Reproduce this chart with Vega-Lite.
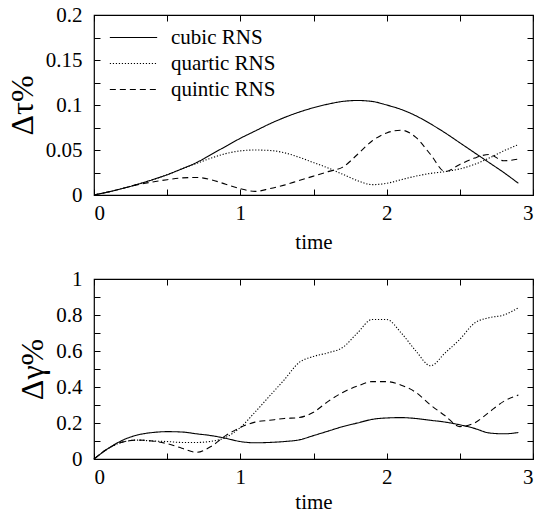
{
  "$schema": "https://vega.github.io/schema/vega-lite/v6.json",
  "padding": {"left": 5, "top": 3, "right": 0, "bottom": 0},
  "spacing": 14,
  "config": {
    "font": "Liberation Serif",
    "view": {"stroke": "black", "strokeWidth": 1.2},
    "axis": {
      "labelFont": "'Liberation Serif', serif",
      "labelFontSize": 21,
      "labelColor": "black",
      "titleFont": "'Liberation Serif', serif",
      "titleColor": "black",
      "titleFontWeight": "normal",
      "tickColor": "black",
      "tickSize": -6,
      "domain": false,
      "grid": false
    },
    "legend": {
      "labelFont": "Liberation Serif",
      "labelFontSize": 21,
      "labelColor": "black"
    }
  },
  "datasets": {
    "tau": [
      {"t":0,"v":0,"s":"cubic RNS"},{"t":0.1,"v":0.0035,"s":"cubic RNS"},{"t":0.2,"v":0.0075,"s":"cubic RNS"},{"t":0.3,"v":0.012,"s":"cubic RNS"},{"t":0.4,"v":0.017,"s":"cubic RNS"},{"t":0.5,"v":0.0225,"s":"cubic RNS"},{"t":0.6,"v":0.029,"s":"cubic RNS"},{"t":0.7,"v":0.036,"s":"cubic RNS"},{"t":0.8,"v":0.045,"s":"cubic RNS"},{"t":0.9,"v":0.054,"s":"cubic RNS"},{"t":1.0,"v":0.063,"s":"cubic RNS"},{"t":1.1,"v":0.071,"s":"cubic RNS"},{"t":1.2,"v":0.079,"s":"cubic RNS"},{"t":1.3,"v":0.086,"s":"cubic RNS"},{"t":1.4,"v":0.092,"s":"cubic RNS"},{"t":1.5,"v":0.097,"s":"cubic RNS"},{"t":1.6,"v":0.101,"s":"cubic RNS"},{"t":1.7,"v":0.104,"s":"cubic RNS"},{"t":1.8,"v":0.105,"s":"cubic RNS"},{"t":1.9,"v":0.104,"s":"cubic RNS"},{"t":2.0,"v":0.1,"s":"cubic RNS"},{"t":2.1,"v":0.095,"s":"cubic RNS"},{"t":2.2,"v":0.088,"s":"cubic RNS"},{"t":2.3,"v":0.079,"s":"cubic RNS"},{"t":2.4,"v":0.069,"s":"cubic RNS"},{"t":2.5,"v":0.058,"s":"cubic RNS"},{"t":2.6,"v":0.047,"s":"cubic RNS"},{"t":2.7,"v":0.036,"s":"cubic RNS"},{"t":2.8,"v":0.025,"s":"cubic RNS"},{"t":2.9,"v":0.013,"s":"cubic RNS"},
      {"t":0,"v":0,"s":"quartic RNS"},{"t":0.1,"v":0.0035,"s":"quartic RNS"},{"t":0.2,"v":0.0075,"s":"quartic RNS"},{"t":0.3,"v":0.012,"s":"quartic RNS"},{"t":0.4,"v":0.017,"s":"quartic RNS"},{"t":0.5,"v":0.0225,"s":"quartic RNS"},{"t":0.6,"v":0.029,"s":"quartic RNS"},{"t":0.7,"v":0.035,"s":"quartic RNS"},{"t":0.8,"v":0.041,"s":"quartic RNS"},{"t":0.9,"v":0.046,"s":"quartic RNS"},{"t":1.0,"v":0.049,"s":"quartic RNS"},{"t":1.1,"v":0.05,"s":"quartic RNS"},{"t":1.2,"v":0.0495,"s":"quartic RNS"},{"t":1.3,"v":0.047,"s":"quartic RNS"},{"t":1.4,"v":0.042,"s":"quartic RNS"},{"t":1.5,"v":0.036,"s":"quartic RNS"},{"t":1.6,"v":0.03,"s":"quartic RNS"},{"t":1.7,"v":0.023,"s":"quartic RNS"},{"t":1.8,"v":0.016,"s":"quartic RNS"},{"t":1.9,"v":0.0115,"s":"quartic RNS"},{"t":2.0,"v":0.013,"s":"quartic RNS"},{"t":2.1,"v":0.017,"s":"quartic RNS"},{"t":2.2,"v":0.021,"s":"quartic RNS"},{"t":2.3,"v":0.024,"s":"quartic RNS"},{"t":2.4,"v":0.026,"s":"quartic RNS"},{"t":2.5,"v":0.029,"s":"quartic RNS"},{"t":2.6,"v":0.034,"s":"quartic RNS"},{"t":2.7,"v":0.041,"s":"quartic RNS"},{"t":2.8,"v":0.049,"s":"quartic RNS"},{"t":2.9,"v":0.056,"s":"quartic RNS"},
      {"t":0,"v":0,"s":"quintic RNS"},{"t":0.1,"v":0.0035,"s":"quintic RNS"},{"t":0.2,"v":0.0075,"s":"quintic RNS"},{"t":0.3,"v":0.0115,"s":"quintic RNS"},{"t":0.4,"v":0.0145,"s":"quintic RNS"},{"t":0.5,"v":0.017,"s":"quintic RNS"},{"t":0.6,"v":0.019,"s":"quintic RNS"},{"t":0.7,"v":0.0195,"s":"quintic RNS"},{"t":0.8,"v":0.017,"s":"quintic RNS"},{"t":0.9,"v":0.012,"s":"quintic RNS"},{"t":1.0,"v":0.007,"s":"quintic RNS"},{"t":1.1,"v":0.004,"s":"quintic RNS"},{"t":1.2,"v":0.007,"s":"quintic RNS"},{"t":1.3,"v":0.011,"s":"quintic RNS"},{"t":1.4,"v":0.016,"s":"quintic RNS"},{"t":1.5,"v":0.021,"s":"quintic RNS"},{"t":1.6,"v":0.026,"s":"quintic RNS"},{"t":1.7,"v":0.031,"s":"quintic RNS"},{"t":1.8,"v":0.045,"s":"quintic RNS"},{"t":1.9,"v":0.06,"s":"quintic RNS"},{"t":2.0,"v":0.069,"s":"quintic RNS"},{"t":2.1,"v":0.072,"s":"quintic RNS"},{"t":2.2,"v":0.064,"s":"quintic RNS"},{"t":2.3,"v":0.045,"s":"quintic RNS"},{"t":2.4,"v":0.026,"s":"quintic RNS"},{"t":2.5,"v":0.034,"s":"quintic RNS"},{"t":2.6,"v":0.041,"s":"quintic RNS"},{"t":2.7,"v":0.045,"s":"quintic RNS"},{"t":2.8,"v":0.038,"s":"quintic RNS"},{"t":2.9,"v":0.04,"s":"quintic RNS"}
    ],
    "gamma": [
      {"t":0,"v":0,"s":"cubic RNS"},{"t":0.1,"v":0.06,"s":"cubic RNS"},{"t":0.2,"v":0.106,"s":"cubic RNS"},{"t":0.3,"v":0.134,"s":"cubic RNS"},{"t":0.4,"v":0.147,"s":"cubic RNS"},{"t":0.5,"v":0.152,"s":"cubic RNS"},{"t":0.6,"v":0.15,"s":"cubic RNS"},{"t":0.7,"v":0.14,"s":"cubic RNS"},{"t":0.8,"v":0.13,"s":"cubic RNS"},{"t":0.9,"v":0.115,"s":"cubic RNS"},{"t":1.0,"v":0.097,"s":"cubic RNS"},{"t":1.1,"v":0.09,"s":"cubic RNS"},{"t":1.2,"v":0.092,"s":"cubic RNS"},{"t":1.3,"v":0.097,"s":"cubic RNS"},{"t":1.4,"v":0.106,"s":"cubic RNS"},{"t":1.5,"v":0.13,"s":"cubic RNS"},{"t":1.6,"v":0.155,"s":"cubic RNS"},{"t":1.7,"v":0.18,"s":"cubic RNS"},{"t":1.8,"v":0.2,"s":"cubic RNS"},{"t":1.9,"v":0.22,"s":"cubic RNS"},{"t":2.0,"v":0.228,"s":"cubic RNS"},{"t":2.1,"v":0.23,"s":"cubic RNS"},{"t":2.2,"v":0.225,"s":"cubic RNS"},{"t":2.3,"v":0.215,"s":"cubic RNS"},{"t":2.4,"v":0.205,"s":"cubic RNS"},{"t":2.5,"v":0.19,"s":"cubic RNS"},{"t":2.6,"v":0.17,"s":"cubic RNS"},{"t":2.7,"v":0.145,"s":"cubic RNS"},{"t":2.8,"v":0.14,"s":"cubic RNS"},{"t":2.9,"v":0.147,"s":"cubic RNS"},
      {"t":0,"v":0,"s":"quartic RNS"},{"t":0.1,"v":0.06,"s":"quartic RNS"},{"t":0.2,"v":0.095,"s":"quartic RNS"},{"t":0.3,"v":0.105,"s":"quartic RNS"},{"t":0.4,"v":0.1,"s":"quartic RNS"},{"t":0.5,"v":0.097,"s":"quartic RNS"},{"t":0.6,"v":0.092,"s":"quartic RNS"},{"t":0.7,"v":0.092,"s":"quartic RNS"},{"t":0.8,"v":0.098,"s":"quartic RNS"},{"t":0.9,"v":0.12,"s":"quartic RNS"},{"t":1.0,"v":0.175,"s":"quartic RNS"},{"t":1.1,"v":0.26,"s":"quartic RNS"},{"t":1.2,"v":0.35,"s":"quartic RNS"},{"t":1.3,"v":0.44,"s":"quartic RNS"},{"t":1.4,"v":0.535,"s":"quartic RNS"},{"t":1.5,"v":0.57,"s":"quartic RNS"},{"t":1.6,"v":0.59,"s":"quartic RNS"},{"t":1.7,"v":0.62,"s":"quartic RNS"},{"t":1.8,"v":0.7,"s":"quartic RNS"},{"t":1.9,"v":0.775,"s":"quartic RNS"},{"t":2.0,"v":0.775,"s":"quartic RNS"},{"t":2.1,"v":0.7,"s":"quartic RNS"},{"t":2.2,"v":0.6,"s":"quartic RNS"},{"t":2.3,"v":0.518,"s":"quartic RNS"},{"t":2.4,"v":0.59,"s":"quartic RNS"},{"t":2.5,"v":0.665,"s":"quartic RNS"},{"t":2.6,"v":0.755,"s":"quartic RNS"},{"t":2.7,"v":0.785,"s":"quartic RNS"},{"t":2.8,"v":0.8,"s":"quartic RNS"},{"t":2.9,"v":0.84,"s":"quartic RNS"},
      {"t":0,"v":0,"s":"quintic RNS"},{"t":0.1,"v":0.06,"s":"quintic RNS"},{"t":0.2,"v":0.095,"s":"quintic RNS"},{"t":0.3,"v":0.105,"s":"quintic RNS"},{"t":0.4,"v":0.1,"s":"quintic RNS"},{"t":0.5,"v":0.085,"s":"quintic RNS"},{"t":0.6,"v":0.06,"s":"quintic RNS"},{"t":0.7,"v":0.037,"s":"quintic RNS"},{"t":0.8,"v":0.07,"s":"quintic RNS"},{"t":0.9,"v":0.13,"s":"quintic RNS"},{"t":1.0,"v":0.175,"s":"quintic RNS"},{"t":1.1,"v":0.205,"s":"quintic RNS"},{"t":1.2,"v":0.215,"s":"quintic RNS"},{"t":1.3,"v":0.225,"s":"quintic RNS"},{"t":1.4,"v":0.23,"s":"quintic RNS"},{"t":1.5,"v":0.26,"s":"quintic RNS"},{"t":1.6,"v":0.32,"s":"quintic RNS"},{"t":1.7,"v":0.37,"s":"quintic RNS"},{"t":1.8,"v":0.405,"s":"quintic RNS"},{"t":1.9,"v":0.43,"s":"quintic RNS"},{"t":2.0,"v":0.43,"s":"quintic RNS"},{"t":2.1,"v":0.41,"s":"quintic RNS"},{"t":2.2,"v":0.37,"s":"quintic RNS"},{"t":2.3,"v":0.3,"s":"quintic RNS"},{"t":2.4,"v":0.24,"s":"quintic RNS"},{"t":2.5,"v":0.18,"s":"quintic RNS"},{"t":2.6,"v":0.2,"s":"quintic RNS"},{"t":2.7,"v":0.26,"s":"quintic RNS"},{"t":2.8,"v":0.32,"s":"quintic RNS"},{"t":2.9,"v":0.355,"s":"quintic RNS"}
    ]
  },
  "resolve": {"scale": {"strokeDash": "independent"}, "legend": {"strokeDash": "independent"}},
  "vconcat": [
    {
      "width": 439,
      "height": 180,
      "data": {"name": "tau"},
      "layer": [
        {
          "mark": {"type": "line", "color": "black", "strokeWidth": 1.1, "interpolate": "monotone"},
          "encoding": {
            "x": {"field": "t", "type": "quantitative", "scale": {"domain": [0, 3], "nice": false},
              "axis": {"orient": "bottom", "values": [0, 0.5, 1, 1.5, 2, 2.5, 3], "labelExpr": "datum.value % 1 === 0 ? format(datum.value, '~g') : ''", "labelPadding": 13, "title": "time", "titleFontSize": 21, "titlePadding": 8}},
            "y": {"field": "v", "type": "quantitative", "scale": {"domain": [0, 0.2], "nice": false},
              "axis": {"orient": "left", "values": [0, 0.025, 0.05, 0.075, 0.1, 0.125, 0.15, 0.175, 0.2], "labelExpr": "abs(datum.value * 20 - round(datum.value * 20)) < 0.000001 ? format(datum.value, '~g') : ''", "labelPadding": 18, "title": "Δτ%", "titleFontSize": 32, "titlePadding": 6}},
            "strokeDash": {"field": "s", "type": "nominal",
              "scale": {"domain": ["cubic RNS", "quartic RNS", "quintic RNS"], "range": [[1, 0], [1.2, 1.8], [6, 4]]},
              "legend": {"title": null, "orient": "none", "legendX": 15, "legendY": 10, "symbolType": "M-2,0H2", "symbolSize": 560, "symbolOffset": 12, "symbolStrokeWidth": 1.1, "symbolStrokeColor": "black", "labelOffset": 25, "rowPadding": 3}}
          }
        },
        {
          "mark": {"type": "line", "opacity": 0},
          "encoding": {
            "x": {"field": "t", "type": "quantitative", "scale": {"domain": [0, 3], "nice": false},
              "axis": {"orient": "top", "values": [0, 0.5, 1, 1.5, 2, 2.5, 3], "labels": false, "title": null}},
            "y": {"field": "v", "type": "quantitative", "scale": {"domain": [0, 0.2], "nice": false},
              "axis": {"orient": "right", "values": [0, 0.025, 0.05, 0.075, 0.1, 0.125, 0.15, 0.175, 0.2], "labels": false, "title": null}},
            "detail": {"field": "s"}
          }
        }
      ],
      "resolve": {"axis": {"x": "independent", "y": "independent"}}
    },
    {
      "width": 439,
      "height": 180,
      "data": {"name": "gamma"},
      "layer": [
        {
          "mark": {"type": "line", "color": "black", "strokeWidth": 1.1, "interpolate": "monotone"},
          "encoding": {
            "x": {"field": "t", "type": "quantitative", "scale": {"domain": [0, 3], "nice": false},
              "axis": {"orient": "bottom", "values": [0, 0.5, 1, 1.5, 2, 2.5, 3], "labelExpr": "datum.value % 1 === 0 ? format(datum.value, '~g') : ''", "labelPadding": 13, "title": "time", "titleFontSize": 21, "titlePadding": 4}},
            "y": {"field": "v", "type": "quantitative", "scale": {"domain": [0, 1], "nice": false},
              "axis": {"orient": "left", "values": [0, 0.1, 0.2, 0.3, 0.4, 0.5, 0.6, 0.7, 0.8, 0.9, 1], "labelExpr": "abs(datum.value * 5 - round(datum.value * 5)) < 0.000001 ? format(datum.value, '~g') : ''", "labelPadding": 18, "title": "Δγ%", "titleFontSize": 32, "titlePadding": 6}},
            "strokeDash": {"field": "s", "type": "nominal",
              "scale": {"domain": ["cubic RNS", "quartic RNS", "quintic RNS"], "range": [[1, 0], [1.2, 1.8], [6, 4]]},
              "legend": null}
          }
        },
        {
          "mark": {"type": "line", "opacity": 0},
          "encoding": {
            "x": {"field": "t", "type": "quantitative", "scale": {"domain": [0, 3], "nice": false},
              "axis": {"orient": "top", "values": [0, 0.5, 1, 1.5, 2, 2.5, 3], "labels": false, "title": null}},
            "y": {"field": "v", "type": "quantitative", "scale": {"domain": [0, 1], "nice": false},
              "axis": {"orient": "right", "values": [0, 0.1, 0.2, 0.3, 0.4, 0.5, 0.6, 0.7, 0.8, 0.9, 1], "labels": false, "title": null}},
            "detail": {"field": "s"}
          }
        }
      ],
      "resolve": {"axis": {"x": "independent", "y": "independent"}}
    }
  ]
}
